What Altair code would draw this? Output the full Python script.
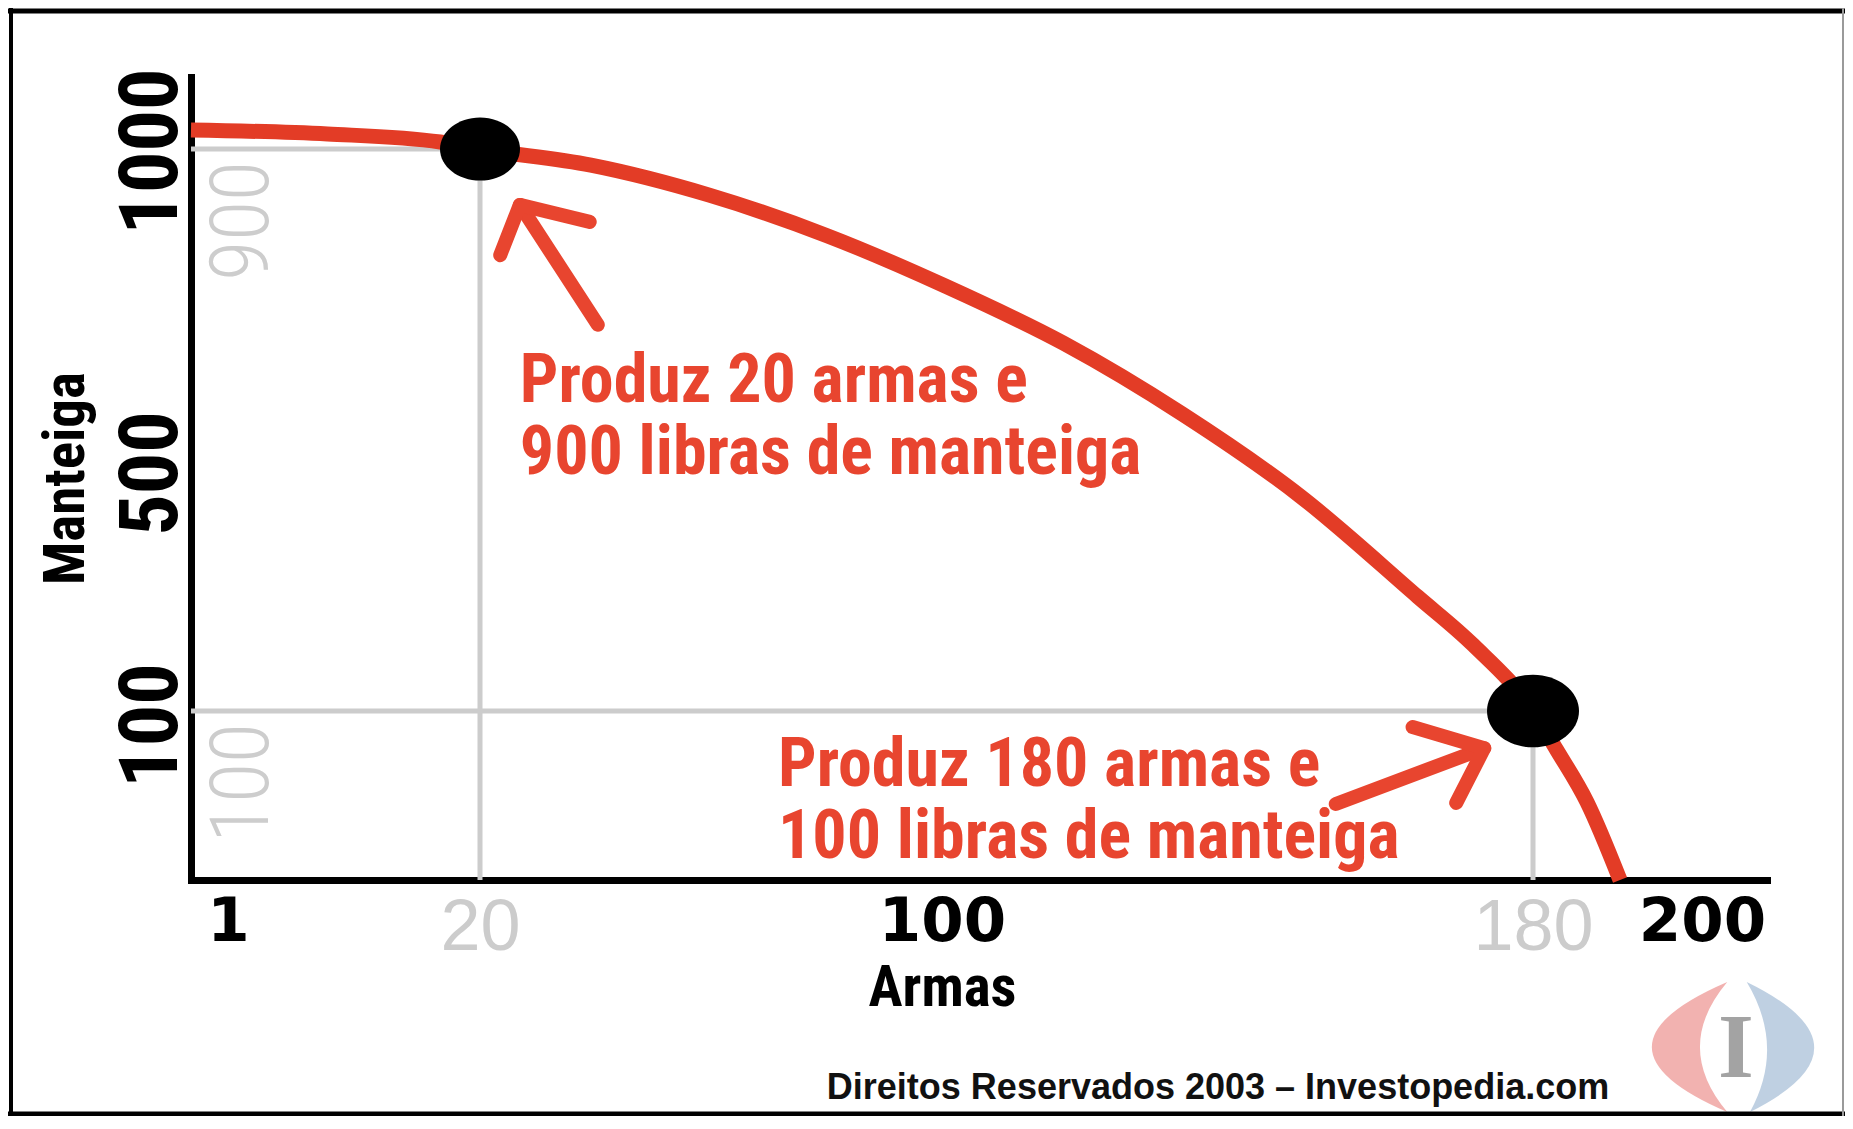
import altair as alt
import pandas as pd

# ---- data ----
# production possibility frontier (guns vs butter)
curve_guns = [0, 8.5, 17, 20, 39.2, 59.7, 80.1, 100.4, 116.5, 132.5, 148.5, 164.4, 171.9, 180, 182.8, 186.4, 190.3]
curve_butter = [1000, 979, 937, 900, 880, 843, 793, 731, 660, 573, 461, 292, 211, 100, 77, 46, 0]

point_guns = [20, 180]
point_butter = [900, 100]

x_tick_values = [1, 20, 100, 180, 200]
y_tick_values = [100, 500, 1000]
gray_y_values = [900, 100]
gray_y_labels = ["900", "100"]

note_guns = [26.9, 71.6]
note_butter = [588, 55.6]
note_text = ["Produz 20 armas e\n900 libras de manteiga",
             "Produz 180 armas e\n100 libras de manteiga"]

arrow_part = ["a1s", "a1s", "a1h", "a1h", "a1h", "a2s", "a2s", "a2h", "a2h", "a2h"]
arrow_guns = [40.4, 26.9, 39.0, 26.9, 23.5, 153.3, 173.4, 163.7, 173.4, 169.6]
arrow_butter = [683, 831, 810, 831, 769, 45, 78, 90.5, 78, 45.6]

credit = "Direitos Reservados 2003 \u2013 Investopedia.com"

# ---- styles ----
RED_LINE = "#e33c26"
RED_TEXT = "#e8452f"
GRAY = "#cccccc"
COND = "Roboto Condensed"

W, H = 1576, 803

# hand-drawn (non-linear) axes of the original illustration: piecewise scales
xscale = alt.Scale(domain=[0, 1, 20, 100, 180, 200, 220],
                   range=[0, 37, 289, 751, 1342, 1511, 1576], nice=False, zero=False)
yscale = alt.Scale(domain=[0, 100, 500, 900, 1000, 1100],
                   range=[803, 634, 396, 72, 53, 0], nice=False, zero=False)

is_gray = "datum.value == 20 || datum.value == 180"

x_axis = alt.Axis(
    values=x_tick_values, title="Armas", grid=False, ticks=False, tickSize=0,
    domainColor="#000000", domainWidth=7, domainCap="square",
    labelOverlap=False, labelFlush=False, labelBound=False, labelLimit=0, format="d",
    labelPadding=12, labelBaseline="top", labelAlign="center",
    labelColor={"condition": {"test": is_gray, "value": GRAY}, "value": "#000000"},
    labelFont={"condition": {"test": is_gray, "value": "Liberation Sans"}, "value": "DejaVu Sans"},
    labelFontWeight={"condition": {"test": is_gray, "value": "normal"}, "value": "bold"},
    labelFontSize={"condition": {"test": is_gray, "value": 72}, "value": 61},
    titleFont=COND, titleFontWeight="bold", titleFontSize=57, titleColor="#000000",
    titleX=751, titleY=125, titleBaseline="alphabetic", titleAlign="center",
)

y_axis = alt.Axis(
    values=y_tick_values, title="Manteiga", grid=False, ticks=False, tickSize=0,
    domainColor="#000000", domainWidth=7, domainCap="square",
    labelOverlap=False, labelFlush=False, labelBound=False, labelLimit=0, format="d",
    labelAngle=270, labelAlign="center", labelBaseline="alphabetic", labelPadding=15,
    labelFont=COND, labelFontWeight="bold", labelFontSize=82, labelColor="#000000",
    labelOffset={"condition": [{"test": "datum.value == 1000", "value": 21},
                               {"test": "datum.value == 100", "value": 14}], "value": 0},
    titleFont=COND, titleFontWeight="bold", titleFontSize=57, titleColor="#000000",
    titleAngle=270, titleX=-108, titleY=401, titleBaseline="alphabetic", titleAlign="center",
)

curve_df = pd.DataFrame({"guns": curve_guns, "butter": curve_butter})
pts_df = pd.DataFrame({"guns": point_guns, "butter": point_butter})
gray_df = pd.DataFrame({"butter": gray_y_values, "label": gray_y_labels})
note_df = pd.DataFrame({"guns": note_guns, "butter": note_butter, "text": note_text})
arrow_df = pd.DataFrame({"guns": arrow_guns, "butter": arrow_butter, "part": arrow_part,
                         "i": list(range(len(arrow_part)))})
one = pd.DataFrame({"k": [0]})

# gray guide lines
guide_v = alt.Chart(pts_df).mark_rule(color=GRAY, strokeWidth=5).encode(
    x=alt.X("guns:Q", scale=xscale, axis=x_axis),
    y=alt.Y("butter:Q", scale=yscale, axis=y_axis),
    y2=alt.datum(0),
)
guide_h = alt.Chart(pts_df).mark_rule(color=GRAY, strokeWidth=5).encode(
    x=alt.X("guns:Q"), x2=alt.datum(0), y=alt.Y("butter:Q"),
)

gray_labels = alt.Chart(gray_df).mark_text(
    angle=270, align="right", baseline="middle", dx=-12,
    font=COND, fontWeight=300, fontSize=82, color="#cdcdcd",
).encode(x=alt.value(52), y=alt.Y("butter:Q"), text="label:N")

curve = alt.Chart(curve_df).mark_line(
    color=RED_LINE, strokeWidth=15, interpolate="monotone", strokeCap="butt",
).encode(x=alt.X("guns:Q"), y=alt.Y("butter:Q"))

arrows = alt.Chart(arrow_df).mark_line(
    color=RED_TEXT, strokeWidth=14, strokeCap="round", strokeJoin="round",
).encode(x=alt.X("guns:Q"), y=alt.Y("butter:Q"), detail="part:N", order="i:Q")

ELLIPSE = "M -1 0 A 1 0.79 0 1 0 1 0 A 1 0.79 0 1 0 -1 0 Z"
points = alt.Chart(pts_df).mark_point(
    shape=ELLIPSE, filled=True, color="#000000", opacity=1,
).encode(
    x=alt.X("guns:Q"), y=alt.Y("butter:Q"),
    size=alt.condition("datum.guns == 180", alt.value(8464), alt.value(6400)),
)

notes = alt.Chart(note_df).mark_text(
    align="left", baseline="alphabetic", lineBreak="\n", lineHeight=72,
    font=COND, fontWeight="bold", fontSize=68, color=RED_TEXT,
).encode(x=alt.X("guns:Q"), y=alt.Y("butter:Q"), text="text:N")

credit_text = alt.Chart(one).mark_text(
    align="center", baseline="alphabetic", font="Liberation Sans",
    fontWeight="bold", fontSize=36, color="#111111",
).encode(x=alt.value(1027), y=alt.value(1022), text=alt.value(credit))

# Investopedia-like logo
LEFT_CRES = "M -0.15 -1 Q -2.47 0 -0.15 1 Q -0.99 0 -0.15 -1 Z"
RIGHT_CRES = "M 0.15 -1 Q 2.2 0 0.2 1 Q 0.75 0 0.15 -1 Z"
logo_l = alt.Chart(one).mark_point(shape=LEFT_CRES, filled=True, color="#f0a4a2", opacity=0.85,
                                   size=16900).encode(x=alt.value(1546), y=alt.value(970))
logo_r = alt.Chart(one).mark_point(shape=RIGHT_CRES, filled=True, color="#b8cbdf", opacity=0.9,
                                   size=16900).encode(x=alt.value(1546), y=alt.value(970))
logo_i = alt.Chart(one).mark_text(font="Liberation Serif", fontWeight="bold", fontSize=92,
                                  color="#a3a3a3", align="center", baseline="middle").encode(
    x=alt.value(1545), y=alt.value(972), text=alt.value("I"))

# outer frame
def hrule(y, x1, x2, color, w):
    return alt.Chart(one).mark_rule(color=color, strokeWidth=w).encode(
        x=alt.value(x1), x2=alt.value(x2), y=alt.value(y))

def vrule(x, y1, y2, color, w):
    return alt.Chart(one).mark_rule(color=color, strokeWidth=w).encode(
        x=alt.value(x), y=alt.value(y1), y2=alt.value(y2))

frame = [
    hrule(-66, -183, 1654, "#000000", 5),
    vrule(-180, -69, 1039, "#000000", 4),
    hrule(1037, -183, 1654, "#000000", 5),
    vrule(1652, -69, 1039, "#9a9a9a", 2),
]

chart = alt.layer(
    guide_v, guide_h, gray_labels, curve, arrows, points, notes,
    credit_text, logo_l, logo_r, logo_i, *frame,
).properties(
    width=W, height=H,
    autosize=alt.AutoSizeParams(type="none"),
    padding={"left": 183, "top": 69, "right": 78, "bottom": 236},
    background="#ffffff",
).configure_view(stroke=None)

chart.save("out.html", embed_options={"renderer": "svg", "actions": False})
